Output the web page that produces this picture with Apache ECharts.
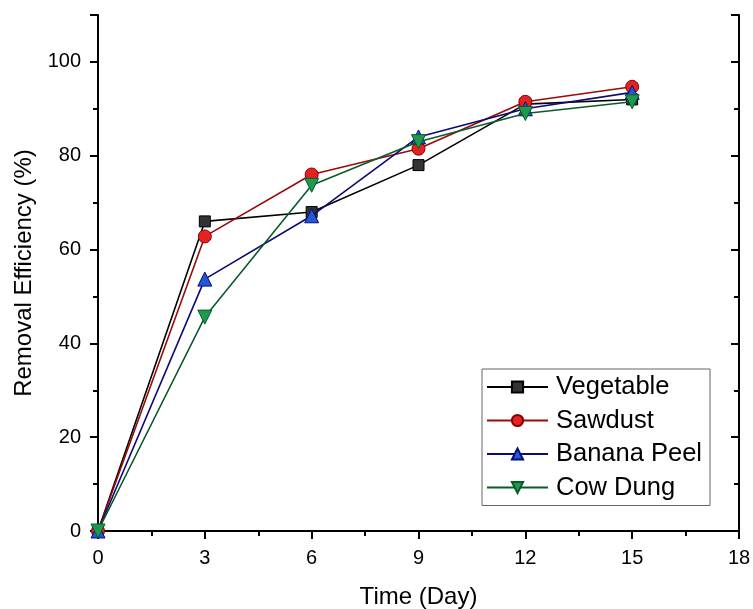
<!DOCTYPE html>
<html>
<head>
<meta charset="utf-8">
<script src="https://cdn.jsdelivr.net/npm/echarts@6/dist/echarts.min.js"></script>
<style>html,body{margin:0;padding:0;background:#fff;}#c{width:753px;height:609px;}</style>
</head>
<body>
<div id="c"></div>
<script>
const days = [0, 3, 6, 9, 12, 15];
const vegetable = [0, 66, 68, 78, 91, 92];
const sawdust = [0, 62.8, 76, 81.5, 91.5, 94.7];
const bananaPeel = [0, 53.7, 67.2, 84, 90, 93.5];
const cowDung = [0, 45.6, 73.7, 83, 89, 91.5];
const seriesNames = ['Vegetable', 'Sawdust', 'Banana Peel', 'Cow Dung'];

const FONT = '"Liberation Sans", Arial, sans-serif';
function pairs(ys) { return days.map((d, i) => [d, ys[i]]); }

const styles = [
  {data: vegetable, symbol: 'rect', size: 11, rot: 0, line: '#000000', fill: '#333333', border: '#000000'},
  {data: sawdust, symbol: 'circle', size: 13, rot: 0, line: '#9a0a0a', fill: '#e52222', border: '#8a0000'},
  {data: bananaPeel, symbol: 'triangle', size: 14, rot: 0, line: '#0a0a78', fill: '#1f5ad0', border: '#0a0a78'},
  {data: cowDung, symbol: 'triangle', size: 14, rot: 180, line: '#0b5a2a', fill: '#1e9a50', border: '#0b5a2a'}
];

const chart = echarts.init(document.getElementById('c'), null, {renderer: 'canvas'});
const axisLine = {show: true, lineStyle: {color: '#000', width: 2}};
const tickStyle = {color: '#000', width: 2};

chart.setOption({
  animation: false,
  backgroundColor: '#fff',
  grid: {left: 98, right: 14, top: 15, bottom: 78, containLabel: false, outerBoundsMode: 'none'},
  legend: {
    orient: 'vertical',
    left: 482, top: 369,
    padding: [5, 8, 5, 4],
    itemGap: 7.5,
    itemWidth: 61,
    itemHeight: 14,
    borderColor: '#666',
    borderWidth: 1,
    data: seriesNames,
    textStyle: {fontFamily: FONT, fontSize: 25.5, color: '#000', lineHeight: 24, padding: [0, 0, 0, 3]}
  },
  xAxis: [
    {
      type: 'value', position: 'bottom', min: 0, max: 18, interval: 3,
      name: 'Time (Day)', nameLocation: 'middle', nameGap: 54,
      nameTextStyle: {fontFamily: FONT, fontSize: 24, color: '#000'},
      axisLine: axisLine,
      axisTick: {show: true, inside: false, length: 8, lineStyle: tickStyle},
      minorTick: {show: true, splitNumber: 2, length: 5, lineStyle: tickStyle},
      axisLabel: {fontFamily: FONT, fontSize: 20, color: '#000', margin: 17},
      splitLine: {show: false}
    },
    {
      type: 'value', position: 'top', min: 0, max: 18, interval: 3,
      axisLine: axisLine,
      axisTick: {show: true, inside: true, length: 8, lineStyle: tickStyle},
      minorTick: {show: true, splitNumber: 2, length: 5, lineStyle: tickStyle},
      axisLabel: {show: false},
      splitLine: {show: false}
    }
  ],
  yAxis: [
    {
      type: 'value', position: 'left', min: 0, max: 110, interval: 20,
      name: 'Removal Efficiency (%)', nameLocation: 'middle', nameGap: 61,
      nameTextStyle: {fontFamily: FONT, fontSize: 24, color: '#000'},
      axisLine: axisLine,
      axisTick: {show: true, inside: false, length: 8, lineStyle: tickStyle},
      axisLabel: {fontFamily: FONT, fontSize: 20, color: '#000', margin: 17,
        formatter: v => (v > 100 ? '' : String(v))},
      splitLine: {show: false}
    },
    {
      type: 'value', position: 'left', min: 0, max: 110, interval: 10,
      axisLine: {show: false},
      axisTick: {show: true, inside: false, length: 5, lineStyle: tickStyle},
      axisLabel: {show: false},
      splitLine: {show: false}
    },
    {
      type: 'value', position: 'right', min: 0, max: 110, interval: 20,
      axisLine: axisLine,
      axisTick: {show: true, inside: true, length: 8, lineStyle: tickStyle},
      axisLabel: {show: false},
      splitLine: {show: false}
    },
    {
      type: 'value', position: 'right', min: 0, max: 110, interval: 10,
      axisLine: {show: false},
      axisTick: {show: true, inside: true, length: 5, lineStyle: tickStyle},
      axisLabel: {show: false},
      splitLine: {show: false}
    }
  ],
  series: styles.map((s, i) => ({
    name: seriesNames[i],
    type: 'line',
    xAxisIndex: 0,
    yAxisIndex: 0,
    data: pairs(s.data),
    symbol: s.symbol,
    symbolSize: s.size,
    symbolRotate: s.rot,
    showAllSymbol: true,
    lineStyle: {color: s.line, width: 1.6},
    itemStyle: {color: s.fill, borderColor: s.border, borderWidth: 1},
    z: 2 + i
  }))
});
</script>
</body>
</html>
